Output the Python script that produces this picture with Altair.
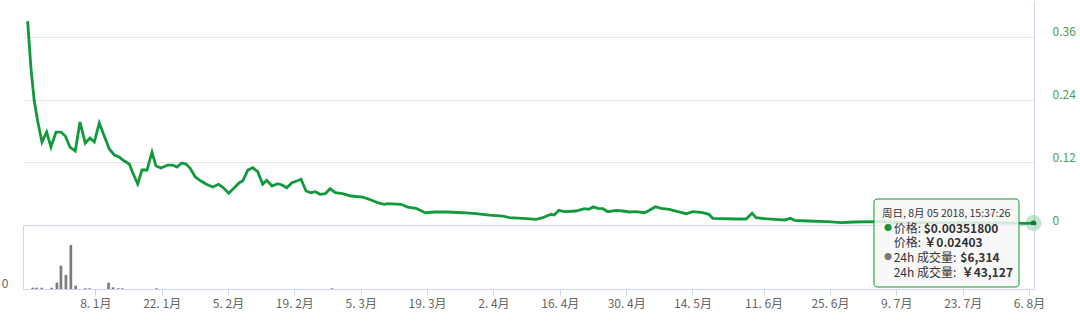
import altair as alt
import pandas as pd

# ---------------- data ----------------
# x positions are in "axis days" (days since 1 Jan 2018, with the ordinal
# gap between mid-May and mid-June collapsed, as in the original axis)
price_t = [-6.23, -5.54, -4.85, -4.14, -3.24, -2.26, -1.36, -0.31, 0.73, 1.63,
           2.61, 3.72, 4.70, 5.81, 6.79, 7.69, 8.73, 9.78, 10.82, 11.87,
           12.91, 13.96, 15.00, 15.84, 16.76, 17.66, 18.70, 19.75, 20.58, 21.63,
           23.03, 24.07, 24.97, 25.95, 26.85, 27.69, 28.79, 29.98, 31.03, 32.43,
           33.68, 34.64, 35.77, 36.94, 37.99, 38.70, 39.74, 40.79, 41.83, 42.88,
           43.71, 44.82, 46.01, 46.91, 47.89, 49.00, 49.98, 50.88, 51.92, 52.97,
           53.87, 54.85, 55.96, 56.94, 58.04, 59.59, 61.33, 63.77, 65.15, 66.90,
           68.28, 68.99, 71.77, 73.17, 74.91, 76.85, 78.73, 81.53, 84.67, 87.44,
           90.22, 93.02, 94.40, 97.20, 99.98, 101.38, 103.12, 103.80, 104.72, 105.89,
           108.34, 110.07, 110.99, 111.95, 112.87, 113.92, 114.96, 116.70, 118.10, 119.48,
           120.88, 122.61, 123.66, 124.91, 126.10, 127.83, 129.59, 131.32, 132.72, 134.81,
           136.07, 136.90, 138.99, 141.77, 143.86, 145.11, 145.95, 147.69, 149.78, 151.87,
           153.12, 153.96, 156.76, 160.93, 163.71, 166.49, 170.67, 176.24, 186.69, 197.14,
           202.01, 203.90]
price_v = [0.3904, 0.3005, 0.2373, 0.1990, 0.1589, 0.1780, 0.1493, 0.1780, 0.1780, 0.1703,
           0.1493, 0.1416, 0.1971, 0.1569, 0.1665, 0.1589, 0.1952, 0.1703, 0.1455, 0.1340,
           0.1301, 0.1225, 0.1167, 0.0976, 0.0785, 0.1053, 0.1053, 0.1397, 0.1129, 0.1091,
           0.1148, 0.1148, 0.1110, 0.1187, 0.1167, 0.1091, 0.0919, 0.0842, 0.0785, 0.0727,
           0.0779, 0.0714, 0.0607, 0.0714, 0.0810, 0.0842, 0.1047, 0.1097, 0.1020, 0.0779,
           0.0856, 0.0746, 0.0790, 0.0766, 0.0714, 0.0810, 0.0842, 0.0875, 0.0651, 0.0618,
           0.0637, 0.0588, 0.0599, 0.0695, 0.0618, 0.0599, 0.0555, 0.0536, 0.0492, 0.0427,
           0.0396, 0.0408, 0.0396, 0.0344, 0.0320, 0.0235, 0.0249, 0.0249, 0.0235, 0.0216,
           0.0191, 0.0172, 0.0140, 0.0128, 0.0109, 0.0140, 0.0205, 0.0191, 0.0281, 0.0255,
           0.0268, 0.0312, 0.0300, 0.0350, 0.0320, 0.0312, 0.0255, 0.0281, 0.0268, 0.0249,
           0.0255, 0.0235, 0.0281, 0.0350, 0.0320, 0.0300, 0.0255, 0.0216, 0.0255, 0.0235,
           0.0205, 0.0128, 0.0121, 0.0115, 0.0115, 0.0224, 0.0140, 0.0121, 0.0109, 0.0096,
           0.0128, 0.0090, 0.0077, 0.0063, 0.0044, 0.0057, 0.0063, 0.0048, 0.0044, 0.0038,
           0.0033, 0.003518]

vol_t = [-6.2, -5.4, -4.3, -2.2, -1.1, -0.25, 0.8, 1.84, 2.86, 4.9, 5.8, 9.8, 10.76,
         11.87, 12.7, 19.9, 56.9]
vol_v = [26000, 26000, 26000, 26000, 126000, 466000, 280000, 880000, 66000, 14000,
         14000, 126000, 34000, 14000, 14000, 14000, 14000]

tick_t = [7, 21, 35, 49, 63, 77, 91, 105, 119, 133, 148, 162, 176, 190, 204]
tick_labels = ["8. 1月", "22. 1月", "5. 2月", "19. 2月", "5. 3月", "19. 3月", "2. 4月",
               "16. 4月", "30. 4月", "14. 5月", "11. 6月", "25. 6月", "9. 7月",
               "23. 7月", "6. 8月"]
price_ticks = [0, 0.12, 0.24, 0.36]

tip_date = "周日, 8月 05 2018, 15:37:26"
tip_labels = ["价格:", "价格:", "24h 成交量:", "24h 成交量:"]
tip_values = ["$0.00351800", "￥0.02403", "$6,314", "￥43,127"]

# ---------------- styling ----------------
GREEN = "#11993b"
FONT = "Noto Sans CJK SC"
AXIS_LINE = "#ccd6eb"
GRID = "#e6e6e6"
W = 1011

price_df = pd.DataFrame({"t": price_t, "price": price_v})
last_df = price_df.tail(1)
vol_df = pd.DataFrame({"t": vol_t, "vol": vol_v})

xscale = alt.Scale(domain=[-7.2, 204], nice=False, zero=False)
label_expr = ("[" + ",".join(f"'{s}'" for s in tick_labels) + "][indexof(["
              + ",".join(str(v) for v in tick_t) + "], datum.value)]")

line = alt.Chart(price_df).mark_line(color=GREEN, strokeWidth=2.8).encode(
    x=alt.X("t:Q", scale=xscale, axis=None),
    y=alt.Y("price:Q",
            scale=alt.Scale(domain=[0, 0.4289], nice=False),
            axis=alt.Axis(orient="right", values=price_ticks, format=".2~f",
                          grid=True, gridColor=GRID, ticks=False, domain=True,
                          domainColor=AXIS_LINE, labelColor="#4a9e56",
                          labelFont=FONT, labelFontSize=12, labelPadding=18,
                          labelOffset=-5, title=None)),
)
halo = alt.Chart(last_df).mark_point(filled=True, size=260, color=GREEN,
                                     opacity=0.25).encode(x="t:Q", y="price:Q")
dot = alt.Chart(last_df).mark_point(filled=True, size=30, color="#0b7a2e",
                                    opacity=1).encode(x="t:Q", y="price:Q")

top = alt.layer(line, halo, dot).properties(
    width=W, height=224, view=alt.ViewBackground(stroke="transparent"))

bars = alt.Chart(vol_df).mark_bar(size=2.7, color="#7c7c7c").encode(
    x=alt.X("t:Q", scale=xscale,
            axis=alt.Axis(values=tick_t, labelExpr=label_expr, domain=False,
                          ticks=True, tickColor=AXIS_LINE, tickSize=6,
                          labelColor="#666666", labelFont=FONT, labelFontSize=12,
                          labelPadding=3, labelOverlap=False, labelFlush=False,
                          grid=False, title=None)),
    y=alt.Y("vol:Q", scale=alt.Scale(domain=[0, 1280000], nice=False),
            axis=alt.Axis(values=[0], ticks=False, domain=False, grid=False,
                          labelColor="#666666", labelFont=FONT, labelFontSize=12,
                          labelPadding=15, labelOffset=-6, title=None)),
)

one = pd.DataFrame({"k": [0]})


def txt(s, x, y, size=12, bold=False, color="#333333"):
    return alt.Chart(one).mark_text(
        text=s, align="left", baseline="middle", font=FONT, fontSize=size,
        fontWeight="bold" if bold else "normal", color=color,
    ).encode(x=alt.value(x), y=alt.value(y))


box = alt.Chart(one).mark_rect(fill="#f7f7f7", fillOpacity=0.85, stroke=GREEN,
                               strokeWidth=1, cornerRadius=3).encode(
    x=alt.value(851), x2=alt.value(996), y=alt.value(-26), y2=alt.value(62))

tip_layers = [box, txt(tip_date, 859, -11, size=10.5)]
row_y = [3.7, 18.3, 33.3, 47.7]
val_x = [900.7, 901.3, 937.3, 938.7]
bullet_col = [GREEN, None, "#7c7c7c", None]
for i in range(4):
    if bullet_col[i]:
        tip_layers.append(txt("●", 861, row_y[i], size=8, color=bullet_col[i]))
    tip_layers.append(txt(tip_labels[i], 870.7, row_y[i]))
    tip_layers.append(txt(tip_values[i], val_x[i], row_y[i], bold=True))

bottom = alt.layer(bars, *tip_layers).properties(
    width=W, height=64, view=alt.ViewBackground(stroke=AXIS_LINE))

chart = alt.vconcat(top, bottom, spacing=0, bounds="flush").properties(
    padding={"left": 0, "top": 0, "right": 0, "bottom": 0},
    background="white",
).configure(font=FONT)

chart.save("out.html", embed_options={"renderer": "svg", "actions": False})
